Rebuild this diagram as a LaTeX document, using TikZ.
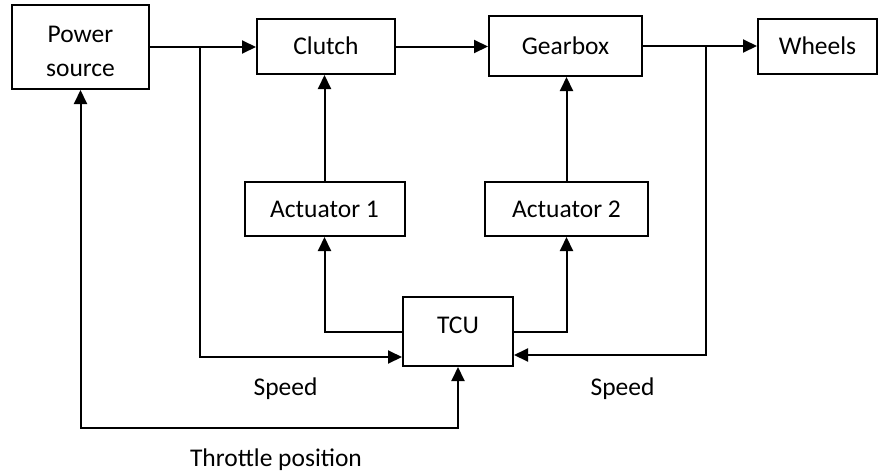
\documentclass[tikz,border=0pt]{standalone}
\usepackage{fontspec}
\setmainfont{Carlito}
\usetikzlibrary{arrows.meta}
\tikzset{
  boxbase/.style={draw, line width=2pt, inner sep=0pt, font=\fontsize{25.5}{34}\selectfont},
  box/.style={boxbase, text height=16pt, text depth=0pt},
  conn/.style={line width=2pt},
  arr/.style={conn, -{Triangle[length=14pt,width=13pt]}},
  arrboth/.style={conn, {Triangle[length=14pt,width=13pt]}-{Triangle[length=14pt,width=13pt]}},
  lbl/.style={inner sep=0pt, anchor=base, font=\fontsize{25.5}{30}\selectfont}
}
\begin{document}
\begin{tikzpicture}[x=1pt,y=-1pt]
\useasboundingbox (0,0) rectangle (880,474);
\node[boxbase, minimum width=137pt, minimum height=84pt, align=center] (ps) at (80.5,47) {\rule{0pt}{26pt}Power\\source};
\node[box, minimum width=138pt, minimum height=55pt] (clutch) at (326,46.5) {Clutch};
\node[box, minimum width=153pt, minimum height=60pt] (gearbox) at (565.5,46) {Gearbox};
\node[box, minimum width=119pt, minimum height=55pt] (wheels) at (817.5,46.5) {Wheels};
\node[box, minimum width=160pt, minimum height=54pt] (act1) at (324.5,209) {Actuator 1};
\node[box, minimum width=163pt, minimum height=54pt] (act2) at (566.5,209) {Actuator 2};
\node[box, minimum width=110pt, minimum height=69pt, text depth=13pt] (tcu) at (458,331.5) {TCU};
\coordinate (b1) at (200,47);
\coordinate (b2) at (706,47);
\coordinate (thr) at (81,428);
\draw[arr] (ps.east) -- (ps.east -| clutch.west);
\draw[arr] (clutch.east) -- (clutch.east -| gearbox.west);
\draw[arr] (gearbox.east) -- (gearbox.east -| wheels.west);
\draw[arr] (act1.north) -- (act1.north |- clutch.south);
\draw[arr] (act2.north) -- (act2.north |- gearbox.south);
\draw[arr] (tcu.west) -| (act1.south);
\draw[arr] (tcu.east) -| (act2.south);
\draw[arr] (b1) |- ([yshift=10pt]tcu.south west);
\draw[arr] (b2) |- ([yshift=12pt]tcu.south east);
\draw[arrboth] (ps.south) |- (tcu.south |- thr) -- (tcu.south);
\node[lbl] (sp1) at (285.5,395) {Speed};
\node[lbl] (sp2) at (622.5,395) {Speed};
\node[lbl] (tp) at (276,466) {Throttle position};
\end{tikzpicture}
\end{document}
